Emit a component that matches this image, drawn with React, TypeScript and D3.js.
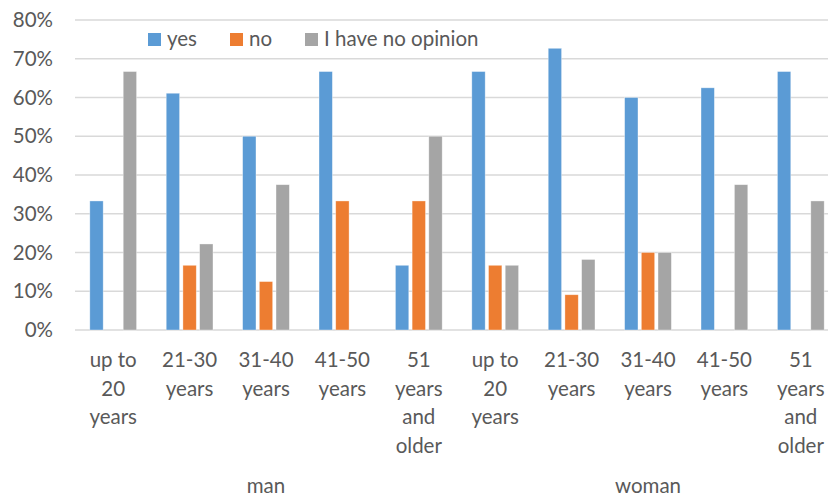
import { useEffect, useRef } from "react";
import * as d3 from "d3";

const WIDTH = 828;
const HEIGHT = 497;
const PLOT = { left: 75, right: 839, top: 20, bottom: 330 };

const groups = ["man", "woman"];
const ageLabels = [
  ["up to", "20", "years"],
  ["21-30", "years"],
  ["31-40", "years"],
  ["41-50", "years"],
  ["51", "years", "and", "older"],
];
const series = ["yes", "no", "I have no opinion"];
const colors = ["#5b9bd5", "#ed7d31", "#a5a5a5"];
const yTicks = [0, 0.1, 0.2, 0.3, 0.4, 0.5, 0.6, 0.7, 0.8];

// share per age group, man first then woman
const yesValues = [0.333, 0.611, 0.5, 0.667, 0.167, 0.667, 0.727, 0.6, 0.625, 0.667];
const noValues = [0, 0.167, 0.125, 0.333, 0.333, 0.167, 0.091, 0.2, 0, 0];
const noOpinionValues = [0.667, 0.222, 0.375, 0, 0.5, 0.167, 0.182, 0.2, 0.375, 0.333];

const FONT = "Lato, 'Open Sans', sans-serif";
const FONT_SIZE = 20.5;
const TEXT = "#595959";

const App = () => {
  const svgRef = useRef<SVGSVGElement | null>(null);

  useEffect(() => {
    const svg = d3.select(svgRef.current);
    svg.selectAll("*").remove();

    const keys = groups.flatMap((g) => ageLabels.map((_, i) => `${g}-${i}`));
    const x = d3
      .scaleBand()
      .domain(keys)
      .range([PLOT.left, PLOT.right])
      .paddingInner(0)
      .paddingOuter(0);
    const xInner = d3
      .scaleBand()
      .domain(series)
      .range([0, x.bandwidth()])
      .paddingInner(0.2)
      .paddingOuter(0.8875);
    const y = d3.scaleLinear().domain([0, 0.8]).range([PLOT.bottom, PLOT.top]);

    // gridlines
    svg
      .append("g")
      .selectAll("line")
      .data(yTicks)
      .join("line")
      .attr("x1", PLOT.left)
      .attr("x2", WIDTH)
      .attr("y1", (d) => y(d))
      .attr("y2", (d) => y(d))
      .attr("stroke", "#d9d9d9")
      .attr("stroke-width", 1.3);

    // y labels
    svg
      .append("g")
      .selectAll("text")
      .data(yTicks)
      .join("text")
      .attr("x", 53)
      .attr("y", (d) => y(d) + 7)
      .attr("text-anchor", "end")
      .attr("font-family", FONT)
      .attr("font-size", FONT_SIZE)
      .attr("fill", TEXT)
      .text((d) => d3.format(".0%")(d));

    // bars
    const allValues = [yesValues, noValues, noOpinionValues];
    series.forEach((s, si) => {
      svg
        .append("g")
        .selectAll("rect")
        .data(allValues[si].map((v, i) => ({ key: keys[i], v })))
        .join("rect")
        .attr("x", (d) => (x(d.key) ?? 0) + (xInner(s) ?? 0))
        .attr("width", xInner.bandwidth())
        .attr("y", (d) => y(d.v))
        .attr("height", (d) => PLOT.bottom - y(d.v))
        .attr("fill", colors[si])
        .attr("stroke", "#ffffff")
        .attr("stroke-opacity", 0.5)
        .attr("stroke-width", 0.7);
    });

    // category labels
    const catG = svg.append("g");
    keys.forEach((k, i) => {
      const lines = ageLabels[i % ageLabels.length];
      const t = catG
        .append("text")
        .attr("text-anchor", "middle")
        .attr("font-family", FONT)
        .attr("font-size", FONT_SIZE)
        .attr("fill", TEXT);
      lines.forEach((line, li) => {
        t.append("tspan")
          .attr("x", (x(k) ?? 0) + x.bandwidth() / 2)
          .attr("y", 367 + li * 28.5)
          .text(line);
      });
    });

    // group labels
    svg
      .append("g")
      .selectAll("text")
      .data(groups)
      .join("text")
      .attr("x", (g) => {
        const first = x(`${g}-0`) ?? 0;
        const last = (x(`${g}-${ageLabels.length - 1}`) ?? 0) + x.bandwidth();
        return (first + last) / 2;
      })
      .attr("y", 493)
      .attr("text-anchor", "middle")
      .attr("font-family", FONT)
      .attr("font-size", FONT_SIZE)
      .attr("fill", TEXT)
      .text((g) => g);

    // legend
    const legendX = [148, 230, 305];
    const legend = svg
      .append("g")
      .selectAll("g")
      .data(series)
      .join("g")
      .attr("transform", (_, i) => `translate(${legendX[i]}, 33)`);
    legend
      .append("rect")
      .attr("width", 13)
      .attr("height", 13)
      .attr("fill", (_, i) => colors[i]);
    legend
      .append("text")
      .attr("x", 19)
      .attr("y", 13)
      .attr("font-family", FONT)
      .attr("font-size", FONT_SIZE)
      .attr("fill", TEXT)
      .text((d) => d);
  }, []);

  return (
    <svg
      ref={svgRef}
      width={WIDTH}
      height={HEIGHT}
      style={{ position: "absolute", left: 0, top: 0, background: "#ffffff" }}
    />
  );
};

export default App;
